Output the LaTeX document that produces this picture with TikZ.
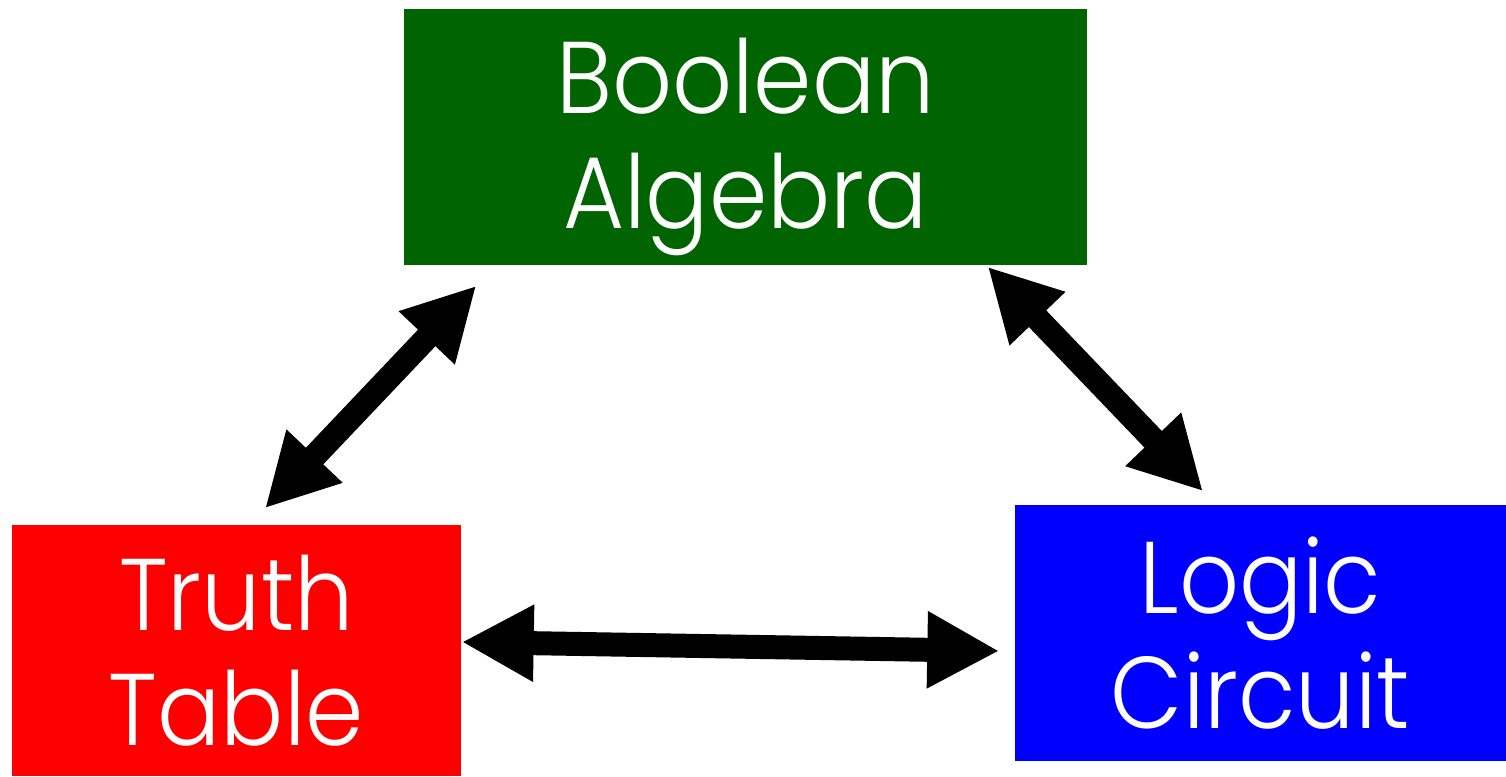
\documentclass[tikz,border=0pt]{standalone}
\usepackage{fontspec}
\setmainfont{Poppins}[UprightFont=* Light, FakeStretch=0.92]
\usetikzlibrary{arrows.meta}

\definecolor{algebragreen}{RGB}{0,100,0}
\definecolor{tablered}{RGB}{255,0,0}
\definecolor{circuitblue}{RGB}{0,0,255}

\begin{document}
\begin{tikzpicture}[
    block/.style={rectangle, inner sep=0pt, text=white, align=center,
        font=\fontsize{29}{32.7}\selectfont},
    link/.style={line width=2.4mm, {Triangle[length=7.2mm,width=7.2mm]}-{Triangle[length=7.2mm,width=7.2mm]}}
]
\useasboundingbox (0,0) rectangle (15.06,7.76);

\node [block, fill=algebragreen, minimum width=6.83cm, minimum height=2.56cm, text depth=2pt] (ba) at (7.455,6.39) {Boolean\\Algebra};
\node [block, fill=tablered, minimum width=4.49cm, minimum height=2.51cm] (tt) at (2.365,1.255) {Truth\\Table};
\node [block, fill=circuitblue, minimum width=4.91cm, minimum height=2.56cm] (lc) at (12.605,1.43) {Logic\\Circuit};

\draw [link] ([shift={(0.285,0.16)}]tt.north) -- ([shift={(0.73,-0.20)}]ba.south west);
\draw [link] ([shift={(-1.00,-0.01)}]ba.south east) -- ([shift={(-0.575,0.13)}]lc.north);
\draw [link] ([shift={(0,0.085)}]tt.east) -- ([shift={(-0.15,-0.18)}]lc.west);
\end{tikzpicture}
\end{document}
